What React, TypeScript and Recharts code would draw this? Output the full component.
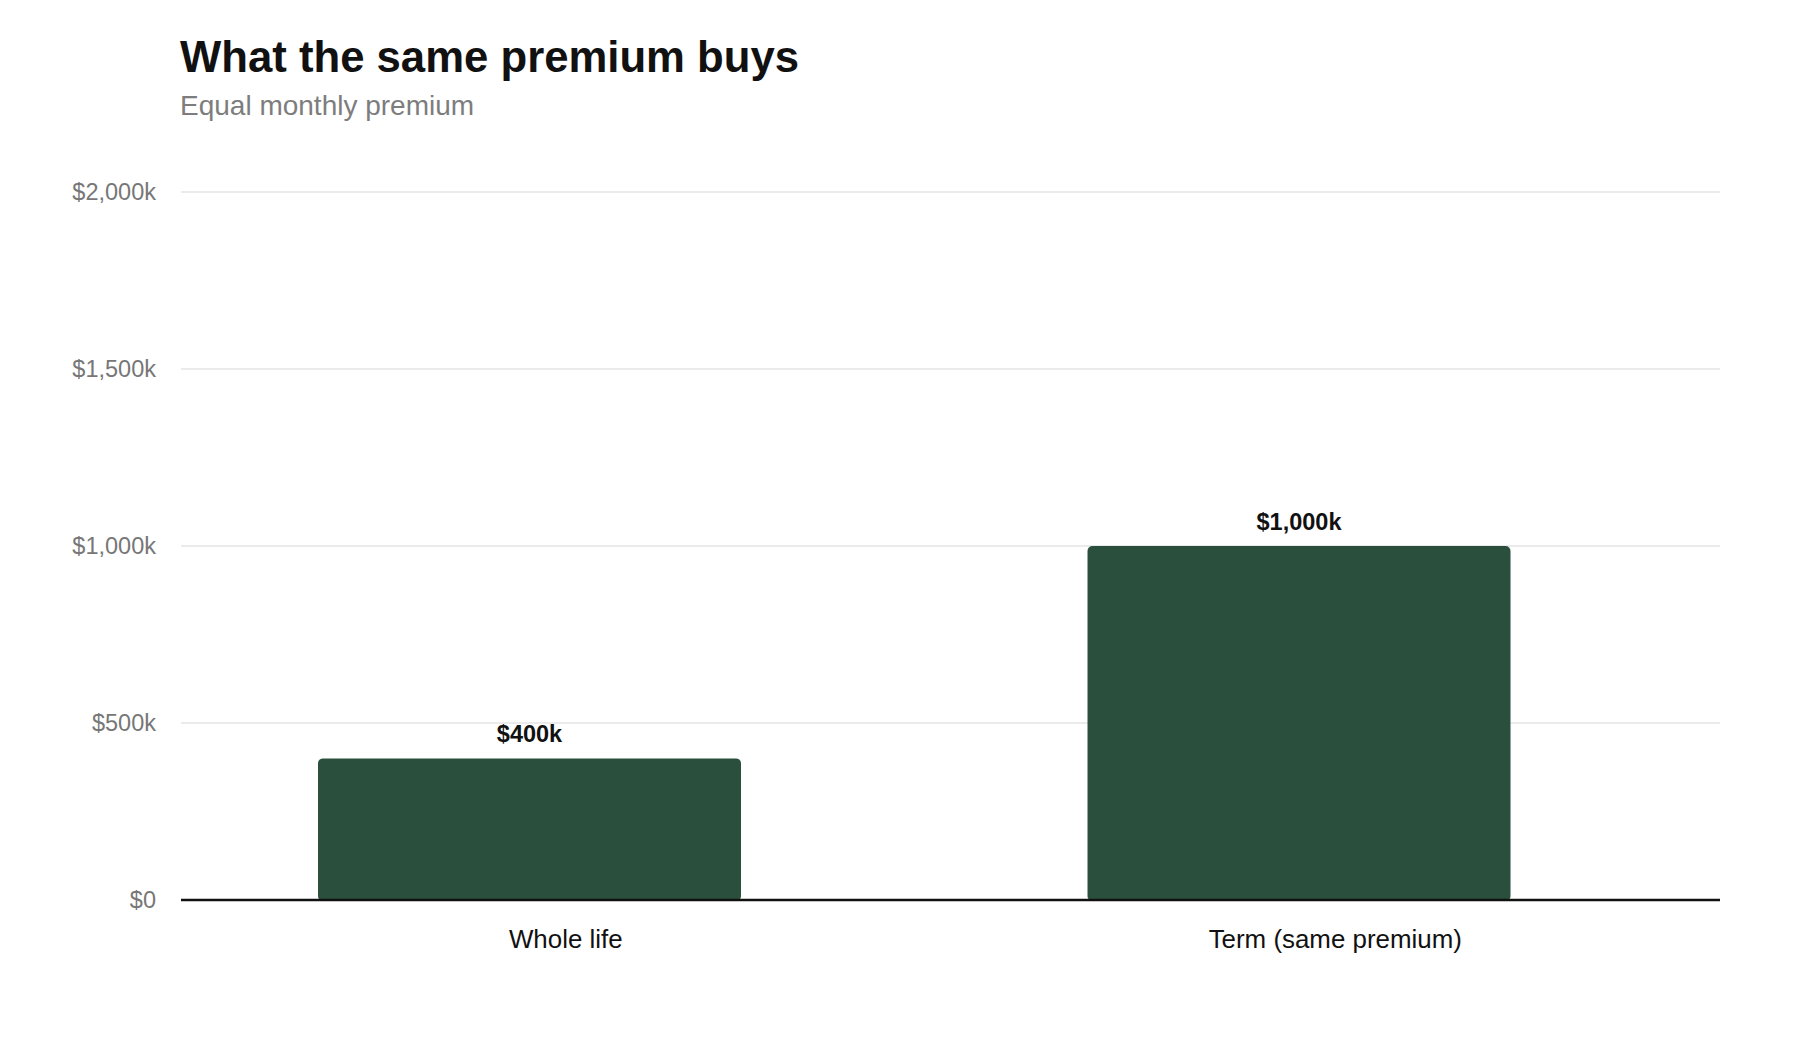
import { BarChart, Bar, XAxis, YAxis, CartesianGrid, LabelList } from 'recharts';

const categories = ['Whole life', 'Term (same premium)'];
const coverage = [400, 1000]; // $k bought with the same monthly premium
const spacer = [null, null]; // empty second slot, keeps bars left of the label like the original
const yTicks = [0, 500, 1000, 1500, 2000];

const data = categories.map((name, i) => ({ name, coverage: coverage[i], spacer: spacer[i] }));

const FONT = '"Liberation Sans", Arial, Helvetica, sans-serif';
const GREEN = '#2a4f3d';

const money = (v: number) => (v === 0 ? '$0' : `$${v.toLocaleString('en-US')}k`);

export default function App() {
  return (
    <div style={{ position: 'absolute', left: 0, top: 0, width: 1800, height: 1040, background: '#fff', fontFamily: FONT }}>
      <div style={{ position: 'absolute', left: 180, top: 35, fontSize: 43.7, lineHeight: '44px', fontWeight: 700, color: '#111' }}>
        What the same premium buys
      </div>
      <div style={{ position: 'absolute', left: 180, top: 92, fontSize: 28, lineHeight: '28px', color: '#7d7d7d' }}>
        Equal monthly premium
      </div>
      <BarChart
        width={1800}
        height={1040}
        data={data}
        margin={{ top: 192, right: 80, bottom: 80, left: 101 }}
        barGap={4}
        style={{ fontFamily: FONT }}
      >
        <CartesianGrid vertical={false} stroke="#e4e4e4" strokeWidth={1.5} />
        <XAxis
          dataKey="name"
          height={60}
          tickLine={false}
          tickSize={0}
          tickMargin={30}
          axisLine={{ stroke: '#111', strokeWidth: 2.5 }}
          tick={{ fontSize: 25.9, fill: '#111' }}
        />
        <YAxis
          width={80}
          domain={[0, 2000]}
          ticks={yTicks}
          tickFormatter={money}
          axisLine={false}
          tickLine={false}
          tickSize={0}
          tickMargin={25}
          tick={{ fontSize: 23.5, fill: '#777' }}
        />
        <Bar dataKey="coverage" fill={GREEN} barSize={423} radius={[5, 5, 4, 4]} isAnimationActive={false}>
          <LabelList
            dataKey="coverage"
            position="top"
            offset={16}
            formatter={(v: any) => money(Number(v))}
            style={{ fontSize: 23.5, fontWeight: 700, fill: '#111' }}
          />
        </Bar>
        <Bar dataKey="spacer" fill="none" barSize={68} isAnimationActive={false} />
      </BarChart>
    </div>
  );
}
